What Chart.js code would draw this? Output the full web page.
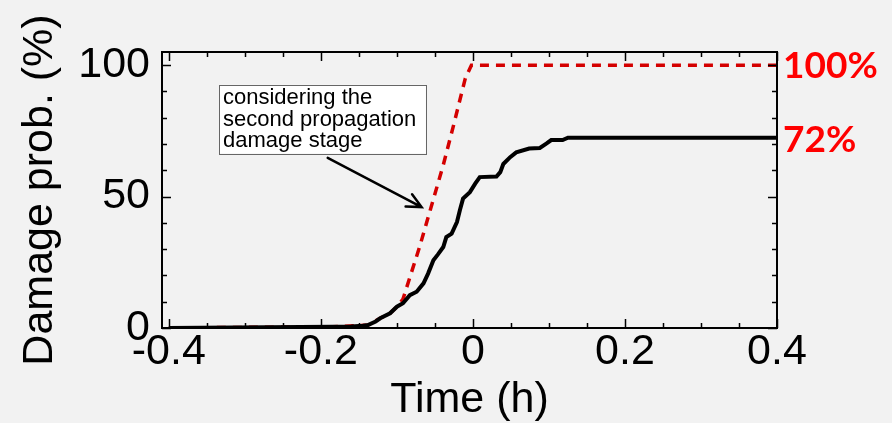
<!DOCTYPE html>
<html>
<head>
<meta charset="utf-8">
<script src="https://cdn.jsdelivr.net/npm/chart.js@4.4.0/dist/chart.umd.min.js"></script>
<style>
html, body { margin: 0; padding: 0; background: #f2f2f2; }
canvas { display: block; }
</style>
</head>
<body>
<canvas id="damageChart" width="892" height="423"></canvas>
<script>
// Black curve - damage probability (%) over time (h)
const timeBase = [-0.4, -0.184, -0.16, -0.145, -0.138, -0.128, -0.122, -0.109, -0.1, -0.092, -0.083,
  -0.074, -0.065, -0.059, -0.052, -0.046, -0.039, -0.035, -0.028, -0.021, -0.017, -0.013, -0.004,
  0.003, 0.009, 0.031, 0.036, 0.040, 0.049, 0.057, 0.074, 0.088, 0.097, 0.103, 0.118, 0.125, 0.4];
const probBase = [0, 0.5, 0.6, 0.9, 1.1, 2.5, 3.7, 5.6, 8.1, 9.4, 12.5,
  13.8, 17, 20.7, 25.8, 28, 30.8, 34.6, 35.9, 40.3, 45, 49.2, 51.7,
  54.9, 57.4, 57.6, 59.3, 62.4, 65, 66.8, 68.3, 68.5, 70.2, 71.5, 71.5, 72.4, 72.4];

// Red dashed curve - considering the second propagation damage stage
const timeSecond = [-0.4, -0.184, -0.138, -0.122, -0.109, -0.1, -0.092, -0.07, -0.039, -0.026, -0.01, -0.002, 0.4];
const probSecond = [0, 0.5, 1.1, 3.7, 5.6, 8.1, 11, 31, 62, 76.5, 95, 100, 100];

// Axis ticks
const xMajor = [-0.4, -0.2, 0, 0.2, 0.4];
const xMinor = [-0.35, -0.3, -0.25, -0.15, -0.1, -0.05, 0.05, 0.1, 0.15, 0.25, 0.3, 0.35];
const yMajor = [0, 50, 100];
const yMinor = [10, 20, 30, 40, 60, 70, 80, 90];

// Final values written at the right side
const endLabels = ['100%', '72%'];
const endValues = [100, 72];

// Note box and arrow
const noteLines = ['considering the', 'second propagation', 'damage stage'];
const noteBox = { x0: -0.334, x1: -0.062, yTop: 92.5, yBottom: 66.4 };
const noteArrow = { x0: -0.191, y0: 64.7, x1: -0.0675, y1: 46 };

const toPoints = (xs, ys) => xs.map((v, i) => ({ x: v, y: ys[i] }));

const axisFont = { family: '"Liberation Sans", Arial, sans-serif', size: 43, lineHeight: 1 };

// frame, inside ticks, labels and note
const framePlugin = {
    id: 'frame',
    afterDraw(chart) {
        const { ctx, chartArea: a, scales: { x, y } } = chart;
        ctx.save();
        ctx.strokeStyle = '#000';
        ctx.lineWidth = 2;
        ctx.strokeRect(a.left, a.top, a.right - a.left, a.bottom - a.top);

        ctx.lineWidth = 1.5;
        ctx.beginPath();
        const xTicks = (vals, len) => vals.forEach(v => {
            const px = Math.round(x.getPixelForValue(v)) + 0.5;
            ctx.moveTo(px, a.bottom); ctx.lineTo(px, a.bottom - len);
            ctx.moveTo(px, a.top); ctx.lineTo(px, a.top + len);
        });
        const yTicks = (vals, len) => vals.forEach(v => {
            const py = Math.round(y.getPixelForValue(v)) + 0.5;
            ctx.moveTo(a.left, py); ctx.lineTo(a.left + len, py);
            ctx.moveTo(a.right, py); ctx.lineTo(a.right - len, py);
        });
        xTicks(xMajor, 9); xTicks(xMinor, 5);
        yTicks(yMajor, 9); yTicks(yMinor, 5);
        ctx.stroke();

        // red end values
        ctx.fillStyle = '#ff0000';
        ctx.font = 'bold 37px Lato, "Open Sans", sans-serif';
        ctx.textAlign = 'left';
        ctx.textBaseline = 'middle';
        endLabels.forEach((t, i) => {
            ctx.fillText(t, a.right + 6, y.getPixelForValue(endValues[i]) + 1);
        });

        // note box
        const bx = x.getPixelForValue(noteBox.x0);
        const by = y.getPixelForValue(noteBox.yTop);
        const bw = x.getPixelForValue(noteBox.x1) - bx;
        const bh = y.getPixelForValue(noteBox.yBottom) - by;
        ctx.fillStyle = '#fff';
        ctx.fillRect(bx, by, bw, bh);
        ctx.strokeStyle = '#666';
        ctx.lineWidth = 1;
        ctx.strokeRect(Math.round(bx) + 0.5, Math.round(by) + 0.5, Math.round(bw), Math.round(bh));
        ctx.fillStyle = '#000';
        ctx.font = '22px "Liberation Sans", Arial, sans-serif';
        ctx.textBaseline = 'alphabetic';
        noteLines.forEach((t, i) => ctx.fillText(t, bx + 4, by + 19 + i * 21.7));

        // arrow
        const ax0 = x.getPixelForValue(noteArrow.x0), ay0 = y.getPixelForValue(noteArrow.y0);
        const ax1 = x.getPixelForValue(noteArrow.x1), ay1 = y.getPixelForValue(noteArrow.y1);
        const ang = Math.atan2(ay1 - ay0, ax1 - ax0);
        ctx.strokeStyle = '#000';
        ctx.lineWidth = 2.5;
        ctx.lineCap = 'round';
        ctx.beginPath();
        ctx.moveTo(ax0, ay0); ctx.lineTo(ax1, ay1);
        ctx.moveTo(ax1 - 16 * Math.cos(ang - 0.45), ay1 - 16 * Math.sin(ang - 0.45));
        ctx.lineTo(ax1, ay1);
        ctx.lineTo(ax1 - 16 * Math.cos(ang + 0.45), ay1 - 16 * Math.sin(ang + 0.45));
        ctx.stroke();
        ctx.restore();
    }
};

const chart = new Chart(document.getElementById('damageChart').getContext('2d'), {
    type: 'line',
    data: {
        datasets: [{
            data: toPoints(timeBase, probBase),
            borderColor: '#000',
            borderWidth: 4,
            pointRadius: 0,
            tension: 0,
            fill: false
        }, {
            data: toPoints(timeSecond, probSecond),
            borderColor: '#d40000',
            borderWidth: 3.5,
            borderDash: [9, 7],
            pointRadius: 0,
            tension: 0,
            fill: false
        }]
    },
    options: {
        responsive: false,
        animation: false,
        layout: { padding: { top: 52, right: 115, left: 0, bottom: 0 } },
        plugins: {
            legend: { display: false },
            tooltip: { enabled: false }
        },
        scales: {
            x: {
                type: 'linear',
                min: -0.409,
                max: 0.4,
                afterBuildTicks: s => { s.ticks = xMajor.map(v => ({ value: v })); },
                afterFit: s => { s.height = 95; },
                grid: { display: false, drawTicks: false },
                border: { display: false },
                ticks: {
                    font: axisFont,
                    color: '#000',
                    padding: 3,
                    maxRotation: 0,
                    autoSkip: false,
                    callback: v => String(v)
                },
                title: {
                    display: true,
                    text: 'Time (h)',
                    font: axisFont,
                    color: '#000',
                    padding: { top: 0, bottom: 1.5 }
                }
            },
            y: {
                min: 0,
                max: 105,
                afterBuildTicks: s => { s.ticks = yMajor.map(v => ({ value: v })); },
                afterFit: s => { s.width = 162; },
                grid: { display: false, drawTicks: false },
                border: { display: false },
                ticks: {
                    font: axisFont,
                    color: '#000',
                    padding: 12,
                    autoSkip: false,
                    callback: v => String(v)
                },
                title: {
                    display: true,
                    text: 'Damage prob. (%)',
                    font: axisFont,
                    color: '#000',
                    padding: { top: 18.5, bottom: 0 }
                }
            }
        }
    },
    plugins: [framePlugin]
});
</script>
</body>
</html>
